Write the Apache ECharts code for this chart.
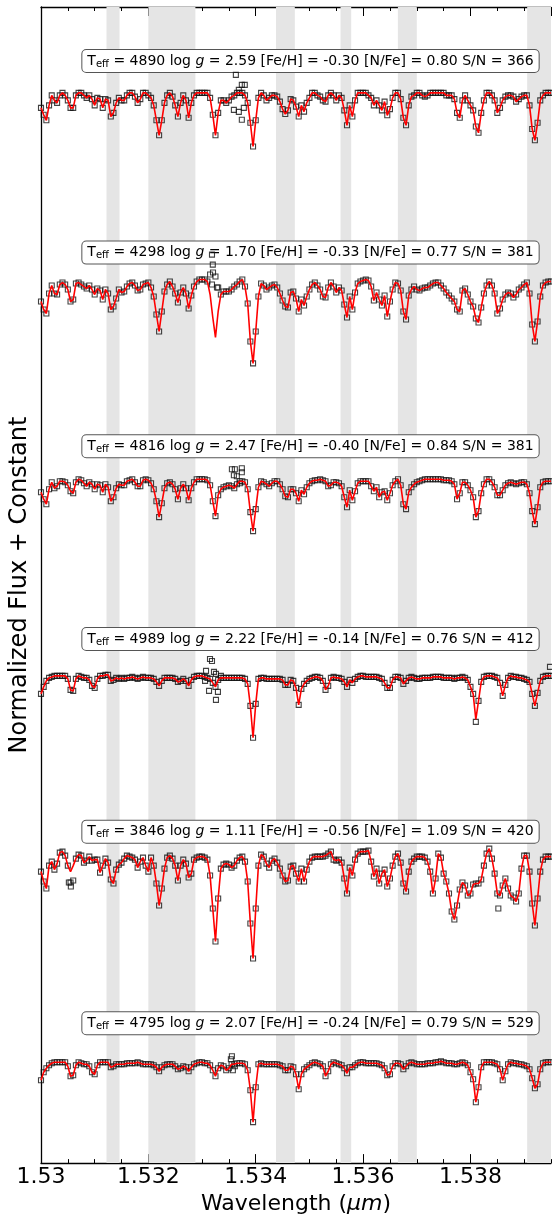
<!DOCTYPE html>
<html><head><meta charset="utf-8">
<script src="https://cdn.jsdelivr.net/npm/echarts@6/dist/echarts.min.js"></script>
<style>html,body{margin:0;padding:0;background:#fff}#c{width:552px;height:1220px}</style>
</head><body><div id="c"></div>
<script>
// ---- sampling grid (instrument pixels) ----
const WL_START = 1.53, WL_STEP = 0.00005, N_PIX = 191;
const X_MIN = 1.53, X_MAX = 1.5395;
const Y_MIN = 0.596, Y_MAX = 5.228;
const xTickInterval = 0.002, xMinorInterval = 0.0005;

// ---- masked (gray) wavelength windows ----
const bandStart = [1.53122, 1.532, 1.534377, 1.53558, 1.536648, 1.539056];
const bandEnd   = [1.531463, 1.532876, 1.534728, 1.535778, 1.537, 1.5395];

// ---- stellar parameters ----
const teff = [4890, 4298, 4816, 4989, 3846, 4795];
const logg = ['2.59', '1.70', '2.47', '2.22', '1.11', '2.07'];
const feh  = ['-0.30', '-0.33', '-0.40', '-0.14', '-0.56', '-0.24'];
const nfe  = ['0.80', '0.77', '0.84', '0.76', '1.09', '0.79'];
const snr  = [366, 381, 381, 412, 420, 529];
const offsets = [3.884, 3.128, 2.336, 1.548, 0.836, 0.0];
const labelX = 1.53502;
const labelY = [5.012, 4.244, 3.468, 2.696, 1.924, 1.156];

// ---- model spectra (normalized flux) ----
const model1 = [
0.94,0.912,0.89,0.95,0.99,0.97,0.96,0.99,1.0,0.99,
0.97,0.94,0.94,0.99,1.0,1.0,0.99,0.98,0.99,0.975,
0.95,0.98,0.975,0.94,0.975,0.97,0.905,0.92,0.96,0.98,
0.97,0.97,0.99,1.0,1.0,0.985,0.96,0.975,1.0,1.0,
0.99,0.98,0.95,0.89,0.83,0.89,0.96,0.99,1.0,0.985,
0.95,0.905,0.96,0.99,0.97,0.90,0.96,0.99,1.0,1.0,
1.0,1.0,1.0,0.98,0.912,0.83,0.92,0.97,0.97,0.96,
0.97,0.985,0.99,1.0,1.0,1.0,0.99,0.96,0.88,0.785,
0.89,0.98,1.0,0.99,0.97,0.98,0.99,0.99,0.985,0.965,
0.935,0.915,0.93,0.975,0.97,0.945,0.905,0.95,0.925,0.96,
0.98,1.0,1.0,0.99,0.985,0.97,0.965,0.99,1.0,0.99,
0.97,0.99,0.98,0.93,0.87,0.95,0.905,0.97,1.0,1.0,
1.0,1.0,0.99,0.98,0.95,0.97,0.95,0.93,0.965,0.91,
0.935,0.98,1.0,1.0,0.975,0.90,0.87,0.95,0.985,0.99,
1.0,1.0,0.99,0.985,0.99,1.0,1.0,1.0,1.0,1.0,
1.0,0.99,0.99,0.99,0.975,0.92,0.90,0.97,0.99,0.97,
0.95,0.93,0.865,0.84,0.92,0.97,1.0,1.0,0.99,0.97,
0.92,0.94,0.97,0.985,0.99,0.99,0.985,0.965,0.975,0.985,
0.99,0.99,0.95,0.855,0.81,0.88,0.97,0.99,1.0,1.0,
1.0];
const model2 = [
0.92,0.888,0.872,0.952,0.984,0.952,0.948,0.988,0.996,0.988,
0.968,0.92,0.928,0.992,0.996,0.988,0.98,0.972,0.984,0.968,
0.948,0.972,0.964,0.928,0.968,0.952,0.888,0.90,0.932,0.968,
0.956,0.96,0.98,0.992,0.996,0.984,0.964,0.968,0.988,0.992,
0.996,0.976,0.94,0.868,0.80,0.88,0.96,0.988,1.0,0.98,
0.952,0.916,0.956,0.976,0.952,0.892,0.944,0.98,1.0,1.008,
1.008,1.008,1.0,0.948,0.856,0.776,0.88,0.948,0.96,0.96,
0.96,0.968,0.98,0.988,1.0,1.008,0.98,0.912,0.76,0.672,
0.80,0.94,0.992,0.984,0.968,0.976,0.984,0.988,0.976,0.952,
0.924,0.90,0.896,0.956,0.96,0.932,0.88,0.928,0.904,0.94,
0.968,0.988,0.996,0.984,0.968,0.94,0.936,0.976,0.996,0.98,
0.956,0.976,0.964,0.908,0.856,0.94,0.888,0.956,0.992,1.0,
1.004,1.008,1.004,0.98,0.924,0.956,0.928,0.904,0.944,0.86,
0.92,0.968,0.996,0.992,0.964,0.88,0.848,0.944,0.968,0.98,
0.968,0.964,0.972,0.976,0.976,0.984,0.992,0.996,0.996,0.984,
0.972,0.956,0.944,0.932,0.92,0.888,0.88,0.964,0.972,0.948,
0.92,0.90,0.852,0.836,0.896,0.952,0.984,1.0,0.984,0.952,
0.872,0.892,0.928,0.948,0.956,0.952,0.936,0.948,0.968,0.976,
0.988,0.996,0.952,0.828,0.76,0.84,0.94,0.984,0.996,1.0,
1.0];
const model3 = [
0.948,0.92,0.90,0.96,0.988,0.964,0.972,0.992,0.992,0.988,
0.976,0.952,0.944,0.988,1.0,0.996,0.984,0.972,0.988,0.98,
0.96,0.98,0.976,0.948,0.98,0.968,0.912,0.928,0.964,0.98,
0.976,0.976,0.992,0.996,1.0,0.988,0.972,0.972,0.996,1.0,
0.996,0.984,0.96,0.912,0.848,0.904,0.964,0.984,0.988,0.98,
0.96,0.92,0.964,0.98,0.964,0.916,0.964,0.988,1.0,1.0,
1.0,1.0,0.996,0.976,0.912,0.852,0.936,0.96,0.968,0.972,
0.976,0.972,0.964,0.98,0.992,0.992,0.988,0.96,0.868,0.792,
0.88,0.968,0.992,0.988,0.98,0.972,0.984,0.992,0.992,0.98,
0.96,0.932,0.928,0.96,0.96,0.944,0.912,0.956,0.94,0.968,
0.984,0.992,0.996,0.996,1.0,0.996,0.992,0.972,0.976,0.988,
0.988,0.984,0.972,0.928,0.888,0.956,0.916,0.952,0.984,0.992,
0.992,0.992,0.992,0.972,0.952,0.968,0.928,0.948,0.952,0.916,
0.944,0.976,0.992,1.0,0.976,0.90,0.88,0.948,0.968,0.98,
0.988,0.992,0.996,1.0,1.0,1.0,1.0,1.0,1.0,1.0,
0.996,0.996,0.996,0.992,0.98,0.92,0.944,0.988,0.988,0.976,
0.956,0.928,0.848,0.872,0.944,0.98,1.0,1.0,0.988,0.968,
0.936,0.936,0.956,0.976,0.984,0.988,0.984,0.98,0.984,0.988,
0.988,0.98,0.944,0.872,0.82,0.888,0.968,0.988,0.992,0.992,
0.992];
const model4 = [
0.928,0.956,0.98,0.992,0.996,1.0,1.0,1.0,1.0,1.0,
0.988,0.944,0.94,0.988,1.0,0.996,0.992,0.992,0.984,0.96,
0.952,0.988,1.0,1.0,1.004,1.004,0.98,0.984,0.992,0.988,
0.992,0.988,0.992,0.992,0.996,0.992,0.988,0.992,0.996,0.992,
0.992,0.992,0.988,0.976,0.96,0.98,0.992,0.992,0.992,0.992,
0.988,0.976,0.98,0.988,0.98,0.96,0.984,0.996,1.0,1.0,
1.0,0.996,0.992,0.988,0.972,0.956,0.984,0.992,0.992,0.992,
0.992,0.992,0.992,0.992,0.992,0.992,0.988,0.968,0.88,0.752,
0.888,0.988,0.992,0.992,0.988,0.988,0.988,0.988,0.988,0.988,
0.984,0.964,0.964,0.984,0.98,0.952,0.884,0.948,0.968,0.98,
0.988,0.992,0.996,0.996,0.992,0.98,0.944,0.96,0.992,0.996,
0.992,0.992,0.988,0.976,0.956,0.984,0.972,0.988,0.996,1.0,
1.0,0.996,0.996,0.996,0.996,0.996,0.992,0.988,0.972,0.952,
0.952,0.984,0.996,0.996,0.992,0.968,0.98,0.992,0.996,0.992,
0.988,0.988,0.992,0.992,0.992,0.992,0.996,0.996,0.996,0.996,
0.992,0.992,0.992,0.992,0.988,0.992,0.992,0.996,0.992,0.984,
0.956,0.928,0.826,0.90,0.976,0.996,1.0,1.0,1.0,0.996,
0.992,0.972,0.92,0.964,0.992,1.0,0.996,0.996,0.992,0.992,
0.988,0.984,0.976,0.928,0.88,0.932,0.98,0.996,1.0,1.0,
1.0];
const model5 = [
0.928,0.888,0.86,0.952,0.968,0.936,0.96,1.004,1.008,0.992,
0.952,0.928,0.952,0.98,0.996,0.992,0.964,0.972,0.988,0.972,
0.976,0.976,0.924,0.952,0.98,0.964,0.896,0.88,0.936,0.956,
0.964,0.98,0.992,0.988,0.984,0.976,0.944,0.968,0.984,0.952,
0.928,0.984,0.952,0.88,0.792,0.86,0.94,0.984,0.992,0.98,
0.952,0.892,0.952,0.976,0.96,0.904,0.92,0.976,0.984,0.988,
0.988,0.984,0.976,0.912,0.78,0.648,0.82,0.94,0.956,0.96,
0.956,0.944,0.952,0.972,0.984,0.988,0.968,0.888,0.72,0.58,
0.78,0.952,0.996,0.988,0.96,0.944,0.972,0.98,0.964,0.94,
0.912,0.888,0.892,0.948,0.952,0.92,0.888,0.94,0.888,0.936,
0.968,0.984,0.988,0.988,0.988,0.988,0.992,1.0,1.008,0.976,
0.972,0.976,0.964,0.90,0.84,0.944,0.912,0.976,1.0,1.008,
1.008,1.008,1.012,0.968,0.908,0.94,0.88,0.92,0.936,0.868,
0.90,0.952,0.988,1.0,0.964,0.88,0.848,0.928,0.968,0.98,
0.988,0.988,0.988,0.984,0.968,0.928,0.84,0.90,1.0,0.984,
0.92,0.888,0.84,0.768,0.736,0.792,0.856,0.884,0.872,0.832,
0.84,0.876,0.88,0.88,0.896,0.952,1.0,1.02,0.98,0.92,
0.84,0.832,0.872,0.90,0.86,0.832,0.824,0.808,0.84,0.94,
0.992,0.992,0.928,0.80,0.712,0.82,0.928,0.976,0.988,0.988,
0.988];
const model6 = [
0.928,0.96,0.976,0.988,0.996,1.0,1.0,1.0,1.0,1.0,
0.984,0.944,0.948,0.988,1.0,0.996,0.992,0.992,0.984,0.96,
0.952,0.988,1.0,1.0,1.0,1.0,0.98,0.984,0.992,0.992,
0.992,0.992,0.996,0.996,0.996,0.996,1.0,0.996,0.992,0.992,
0.992,0.992,0.988,0.98,0.964,0.98,0.988,0.992,0.992,0.992,
0.984,0.972,0.976,0.984,0.98,0.964,0.98,0.992,0.996,1.0,
1.0,0.996,0.996,0.988,0.968,0.944,0.976,0.988,0.984,0.968,
0.976,0.992,0.992,0.996,0.996,0.996,0.992,0.968,0.888,0.76,
0.90,0.992,0.996,0.992,0.992,0.992,0.992,0.992,0.992,0.988,
0.984,0.968,0.968,0.984,0.98,0.952,0.892,0.952,0.972,0.98,
0.988,0.996,1.0,0.996,0.992,0.984,0.944,0.964,0.992,1.0,
0.996,0.992,0.988,0.976,0.956,0.98,0.98,0.988,0.996,1.0,
1.0,0.996,0.996,0.996,0.996,0.996,0.992,0.988,0.976,0.948,
0.952,0.984,0.996,0.996,0.992,0.972,0.984,0.996,1.0,0.996,
0.992,0.992,0.992,0.992,0.996,0.996,0.996,1.0,1.0,1.004,
1.0,0.996,0.996,0.996,0.992,0.992,0.996,1.0,0.996,0.988,
0.96,0.932,0.84,0.90,0.98,1.0,1.0,1.0,1.0,0.996,
0.992,0.972,0.928,0.964,0.992,1.0,0.996,0.996,0.992,0.992,
0.988,0.984,0.972,0.936,0.896,0.912,0.972,0.996,1.0,1.0,
1.0];

// ---- observed spectra (normalized flux) ----
const obs1 = [
0.94,0.912,0.89,0.95,0.99,0.97,0.96,0.99,1.0,0.99,
0.97,0.94,0.94,0.99,1.0,1.0,0.99,0.98,0.99,0.975,
0.95,0.98,0.975,0.94,0.975,0.97,0.905,0.92,0.96,0.98,
0.97,0.97,0.99,1.0,1.0,0.985,0.96,0.975,1.0,1.0,
0.99,0.98,0.95,0.89,0.83,0.89,0.96,0.99,1.0,0.985,
0.95,0.905,0.96,0.99,0.97,0.90,0.96,0.99,1.0,1.0,
1.0,1.0,1.0,0.98,0.912,0.83,0.92,0.97,0.97,0.96,
0.97,0.985,0.99,1.0,1.0,1.0,0.99,0.96,0.88,0.785,
0.89,0.98,1.0,0.99,0.97,0.98,0.99,0.99,0.985,0.965,
0.935,0.915,0.93,0.975,0.97,0.945,0.905,0.95,0.925,0.96,
0.98,1.0,1.0,0.99,0.985,0.97,0.965,0.99,1.0,0.99,
0.97,0.99,0.98,0.93,0.87,0.95,0.905,0.97,1.0,1.0,
1.0,1.0,0.99,0.98,0.95,0.97,0.95,0.93,0.965,0.91,
0.935,0.98,1.0,1.0,0.975,0.90,0.87,0.95,0.985,0.99,
1.0,1.0,0.99,0.985,0.99,1.0,1.0,1.0,1.0,1.0,
1.0,0.99,0.99,0.99,0.975,0.92,0.90,0.97,0.99,0.97,
0.95,0.93,0.865,0.84,0.92,0.97,1.0,1.0,0.99,0.97,
0.92,0.94,0.97,0.985,0.99,0.99,0.985,0.965,0.975,0.985,
0.99,0.99,0.95,0.855,0.81,0.88,0.97,0.99,1.0,1.0,
1.0];
const obs2 = [
0.92,0.888,0.872,0.952,0.984,0.952,0.948,0.988,0.996,0.988,
0.968,0.92,0.928,0.992,0.996,0.988,0.98,0.972,0.984,0.968,
0.948,0.972,0.964,0.928,0.968,0.952,0.888,0.90,0.932,0.968,
0.956,0.96,0.98,0.992,0.996,0.984,0.964,0.968,0.988,0.992,
0.996,0.976,0.94,0.868,0.80,0.88,0.96,0.988,1.0,0.98,
0.952,0.916,0.956,0.976,0.952,0.892,0.944,0.98,1.0,1.008,
1.008,1.008,1.0,1.028,1.068,1.02,0.976,0.948,0.96,0.96,
0.96,0.968,0.98,0.988,1.0,1.008,0.98,0.912,0.76,0.672,
0.80,0.94,0.992,0.984,0.968,0.976,0.984,0.988,0.976,0.952,
0.924,0.90,0.896,0.956,0.96,0.932,0.88,0.928,0.904,0.94,
0.968,0.988,0.996,0.984,0.968,0.94,0.936,0.976,0.996,0.98,
0.956,0.976,0.964,0.908,0.856,0.94,0.888,0.956,0.992,1.0,
1.004,1.008,1.004,0.98,0.924,0.956,0.928,0.904,0.944,0.86,
0.92,0.968,0.996,0.992,0.964,0.88,0.848,0.944,0.968,0.98,
0.968,0.964,0.972,0.976,0.976,0.984,0.992,0.996,0.996,0.984,
0.972,0.956,0.944,0.932,0.92,0.888,0.88,0.964,0.972,0.948,
0.92,0.90,0.852,0.836,0.896,0.952,0.984,1.0,0.984,0.952,
0.872,0.892,0.928,0.948,0.956,0.952,0.936,0.948,0.968,0.976,
0.988,0.996,0.952,0.828,0.76,0.84,0.94,0.984,0.996,1.0,
1.0];
const obs3 = [
0.948,0.92,0.90,0.96,0.988,0.964,0.972,0.992,0.992,0.988,
0.976,0.952,0.944,0.988,1.0,0.996,0.984,0.972,0.988,0.98,
0.96,0.98,0.976,0.948,0.98,0.968,0.912,0.928,0.964,0.98,
0.976,0.976,0.992,0.996,1.0,0.988,0.972,0.972,0.996,1.0,
0.996,0.984,0.96,0.912,0.848,0.904,0.964,0.984,0.988,0.98,
0.96,0.92,0.964,0.98,0.964,0.916,0.964,0.988,1.0,1.0,
1.0,1.0,0.996,0.976,0.912,0.852,0.936,0.96,0.968,0.972,
0.976,0.972,0.964,0.98,0.992,0.992,0.988,0.96,0.868,0.792,
0.88,0.968,0.992,0.988,0.98,0.972,0.984,0.992,0.992,0.98,
0.96,0.932,0.928,0.96,0.96,0.944,0.912,0.956,0.94,0.968,
0.984,0.992,0.996,0.996,1.0,0.996,0.992,0.972,0.976,0.988,
0.988,0.984,0.972,0.928,0.888,0.956,0.916,0.952,0.984,0.992,
0.992,0.992,0.992,0.972,0.952,0.968,0.928,0.948,0.952,0.916,
0.944,0.976,0.992,1.0,0.976,0.90,0.88,0.948,0.968,0.98,
0.988,0.992,0.996,1.0,1.0,1.0,1.0,1.0,1.0,1.0,
0.996,0.996,0.996,0.992,0.98,0.92,0.944,0.988,0.988,0.976,
0.956,0.928,0.848,0.872,0.944,0.98,1.0,1.0,0.988,0.968,
0.936,0.936,0.956,0.976,0.984,0.988,0.984,0.98,0.984,0.988,
0.988,0.98,0.944,0.872,0.82,0.888,0.968,0.988,0.992,0.992,
0.992];
const obs4 = [
0.928,0.956,0.98,0.992,0.996,1.0,1.0,1.0,1.0,1.0,
0.988,0.944,0.94,0.988,1.0,0.996,0.992,0.992,0.984,0.96,
0.952,0.988,1.0,1.0,1.004,1.004,0.98,0.984,0.992,0.988,
0.992,0.988,0.992,0.992,0.996,0.992,0.988,0.992,0.996,0.992,
0.992,0.992,0.988,0.976,0.96,0.98,0.992,0.992,0.992,0.992,
0.988,0.976,0.98,0.988,0.98,0.96,0.984,0.996,1.0,1.0,
1.0,0.996,0.992,0.988,0.972,0.956,0.984,0.992,0.992,0.992,
0.992,0.992,0.992,0.992,0.992,0.992,0.988,0.968,0.88,0.752,
0.888,0.988,0.992,0.992,0.988,0.988,0.988,0.988,0.988,0.988,
0.984,0.964,0.964,0.984,0.98,0.952,0.884,0.948,0.968,0.98,
0.988,0.992,0.996,0.996,0.992,0.98,0.944,0.96,0.992,0.996,
0.992,0.992,0.988,0.976,0.956,0.984,0.972,0.988,0.996,1.0,
1.0,0.996,0.996,0.996,0.996,0.996,0.992,0.988,0.972,0.952,
0.952,0.984,0.996,0.996,0.992,0.968,0.98,0.992,0.996,0.992,
0.988,0.988,0.992,0.992,0.992,0.992,0.996,0.996,0.996,0.996,
0.992,0.992,0.992,0.992,0.988,0.992,0.992,0.996,0.992,0.984,
0.956,0.928,0.816,0.90,0.976,0.996,1.0,1.0,1.0,0.996,
0.992,0.972,0.92,0.964,0.992,1.0,0.996,0.996,0.992,0.992,
0.988,0.984,0.976,0.928,0.88,0.932,0.98,0.996,1.0,1.0,
1.0];
const obs5 = [
0.928,0.888,0.86,0.952,0.968,0.936,0.96,1.004,1.008,0.992,
0.952,0.884,0.892,0.98,0.996,0.992,0.964,0.972,0.988,0.972,
0.976,0.976,0.924,0.952,0.98,0.964,0.896,0.88,0.936,0.956,
0.964,0.98,0.992,0.988,0.984,0.976,0.944,0.968,0.984,0.952,
0.928,0.984,0.952,0.88,0.792,0.86,0.94,0.984,0.992,0.98,
0.952,0.892,0.952,0.976,0.96,0.904,0.92,0.976,0.984,0.988,
0.988,0.984,0.976,0.912,0.78,0.648,0.82,0.94,0.956,0.96,
0.956,0.944,0.952,0.972,0.984,0.988,0.968,0.888,0.72,0.58,
0.78,0.952,0.996,0.988,0.96,0.944,0.972,0.98,0.964,0.94,
0.912,0.888,0.892,0.948,0.952,0.92,0.888,0.94,0.888,0.936,
0.968,0.984,0.988,0.988,0.988,0.988,0.992,1.0,1.008,0.976,
0.972,0.976,0.964,0.90,0.84,0.944,0.912,0.976,1.0,1.008,
1.008,1.008,1.012,0.968,0.908,0.94,0.88,0.92,0.936,0.868,
0.90,0.952,0.988,1.0,0.964,0.88,0.848,0.928,0.968,0.98,
0.988,0.988,0.988,0.984,0.968,0.928,0.84,0.90,1.0,0.984,
0.92,0.888,0.84,0.768,0.736,0.792,0.856,0.884,0.872,0.832,
0.84,0.876,0.88,0.88,0.896,0.952,1.0,1.02,0.98,0.92,
0.84,0.832,0.872,0.90,0.86,0.832,0.824,0.808,0.84,0.94,
0.992,0.992,0.928,0.80,0.712,0.82,0.928,0.976,0.988,0.988,
0.988];
const obs6 = [
0.928,0.96,0.976,0.988,0.996,1.0,1.0,1.0,1.0,1.0,
0.984,0.944,0.948,0.988,1.0,0.996,0.992,0.992,0.984,0.96,
0.952,0.988,1.0,1.0,1.0,1.0,0.98,0.984,0.992,0.992,
0.992,0.992,0.996,0.996,0.996,0.996,1.0,0.996,0.992,0.992,
0.992,0.992,0.988,0.98,0.964,0.98,0.988,0.992,0.992,0.992,
0.984,0.972,0.976,0.984,0.98,0.964,0.98,0.992,0.996,1.0,
1.0,0.996,0.996,0.988,0.968,0.944,0.976,0.988,0.984,0.968,
0.976,0.992,0.992,0.996,0.996,0.996,0.992,0.968,0.888,0.76,
0.90,0.992,0.996,0.992,0.992,0.992,0.992,0.992,0.992,0.988,
0.984,0.968,0.968,0.984,0.98,0.952,0.892,0.952,0.972,0.98,
0.988,0.996,1.0,0.996,0.992,0.984,0.944,0.964,0.992,1.0,
0.996,0.992,0.988,0.976,0.956,0.98,0.98,0.988,0.996,1.0,
1.0,0.996,0.996,0.996,0.996,0.996,0.992,0.988,0.976,0.948,
0.952,0.984,0.996,0.996,0.992,0.972,0.984,0.996,1.0,0.996,
0.992,0.992,0.992,0.992,0.996,0.996,0.996,1.0,1.0,1.004,
1.0,0.996,0.996,0.996,0.992,0.992,0.996,1.0,0.996,0.988,
0.96,0.932,0.84,0.90,0.98,1.0,1.0,1.0,1.0,0.996,
0.992,0.972,0.928,0.964,0.992,1.0,0.996,0.996,0.992,0.992,
0.988,0.984,0.972,0.936,0.896,0.912,0.972,0.996,1.0,1.0,
1.0];

// ---- off-grid observed pixels (spikes / residual sky) [wavelength, flux] ----
const out1 = [[1.53363,1.072],[1.533741,1.032],[1.533796,1.032],[1.533685,1.012],[1.533593,0.932],[1.533685,0.924],[1.533778,0.94],[1.533741,0.892]];
const out2 = [[1.533185,1.108],[1.533185,0.988],[1.533204,1.036],[1.533278,0.976]];
const out3 = [[1.533556,1.04],[1.533611,1.04],[1.533741,1.044],[1.533593,1.016],[1.533648,1.012],[1.533741,1.028],[1.533704,0.984]];
const out4 = [[1.533148,1.068],[1.533185,1.06],[1.533074,1.02],[1.533056,0.98],[1.533222,1.016],[1.533259,1.008],[1.533352,1.0],[1.53313,0.94],[1.533296,0.936],[1.533259,0.904],[1.539481,1.036]];
const out5 = [[1.530519,0.884],[1.530556,0.868],[1.538519,0.78]];
const out6 = [[1.533537,1.012],[1.533556,1.024],[1.533574,0.968],[1.533611,0.984]];

const models = [model1, model2, model3, model4, model5, model6];
const observed = [obs1, obs2, obs3, obs4, obs5, obs6];
const outliers = [out1, out2, out3, out4, out5, out6];

const wavelength = [];
for (let i = 0; i < N_PIX; i++) wavelength.push(+(WL_START + i * WL_STEP).toFixed(6));

const FONT = 'DejaVu Sans';
const chart = echarts.init(document.getElementById('c'), null, {renderer: 'canvas'});

const series = [{
  type: 'line', data: [], z: 0, silent: true,
  markArea: {
    silent: true,
    itemStyle: {color: '#e5e5e5'},
    data: bandStart.map((s, i) => [{xAxis: s}, {xAxis: bandEnd[i]}])
  }
}];
for (let k = 0; k < 6; k++) {
  const off = offsets[k];
  const pts = wavelength.map((w, i) => [w, observed[k][i] + off])
    .concat(outliers[k].map(p => [p[0], p[1] + off]));
  series.push({
    type: 'scatter', data: pts, z: 3, silent: true,
    symbol: 'rect', symbolSize: 5,
    itemStyle: {color: 'rgba(0,0,0,0)', borderColor: '#111', borderWidth: 1.1}
  });
  series.push({
    type: 'line', data: wavelength.map((w, i) => [w, models[k][i] + off]),
    z: 4, silent: true, symbol: 'none',
    lineStyle: {color: '#ff0000', width: 1.6}
  });
}

function xAx(pos, interval, len, labels, line) {
  return {
    type: 'value', position: pos, min: X_MIN, max: X_MAX, interval: interval,
    axisLine: {show: line, onZero: false, lineStyle: {color: '#000', width: 1.3}},
    axisTick: {show: true, inside: true, length: len, lineStyle: {color: '#000', width: 1}},
    axisLabel: labels ? {
      show: true, fontSize: 22, fontFamily: FONT, color: '#000', margin: 3,
      showMaxLabel: false,
      formatter: v => String(+v.toFixed(4))
    } : {show: false},
    splitLine: {show: false}
  };
}
const xAxes = [
  xAx('bottom', xTickInterval, 9, true, true),
  xAx('bottom', xMinorInterval, 4, false, false),
  xAx('top', xTickInterval, 9, false, true),
  xAx('top', xMinorInterval, 4, false, false)
];
xAxes[0].name = 'Wavelength ({i|μm})';
xAxes[0].nameLocation = 'middle';
xAxes[0].nameGap = 29;
xAxes[0].nameTextStyle = {fontSize: 22, fontFamily: FONT, color: '#000',
  rich: {i: {fontSize: 22, fontFamily: FONT, fontStyle: 'italic', color: '#000'}}};

const option = {
  animation: false,
  backgroundColor: '#fff',
  grid: {left: 38, right: 1, top: 7, bottom: 55, containLabel: false},
  xAxis: xAxes,
  yAxis: {
    type: 'value', min: Y_MIN, max: Y_MAX,
    axisLine: {show: true, lineStyle: {color: '#000', width: 1.3}},
    axisTick: {show: false}, axisLabel: {show: false}, splitLine: {show: false},
    name: 'Normalized Flux + Constant', nameLocation: 'middle', nameGap: 9,
    nameTextStyle: {fontSize: 24, fontFamily: FONT, color: '#000'}
  },
  series: series
};
chart.setOption(option);

const graphics = [];
for (let k = 0; k < 6; k++) {
  const p = chart.convertToPixel({xAxisIndex: 0, yAxisIndex: 0}, [labelX, labelY[k]]);
  graphics.push({
    type: 'text', x: p[0], y: p[1], z: 1, silent: true,
    style: {
      text: '{t|T}{s|eff}{t| = ' + teff[k] + ' log }{i|g}{t| = ' + logg[k] + ' [Fe/H] = ' + feh[k] +
            ' [N/Fe] = ' + nfe[k] + ' S/N = ' + snr[k] + '}',
      align: 'center', verticalAlign: 'middle',
      backgroundColor: '#fff', borderColor: '#555', borderWidth: 1, borderRadius: 4,
      padding: [3, 5, 3, 5],
      rich: {
        t: {fontSize: 14, fontFamily: FONT, color: '#000', lineHeight: 16},
        s: {fontSize: 10, fontFamily: FONT, color: '#000', lineHeight: 10, verticalAlign: 'bottom'},
        i: {fontSize: 14, fontFamily: FONT, color: '#000', fontStyle: 'italic', lineHeight: 16}
      }
    }
  });
}
chart.setOption({graphic: graphics});
</script>
</body></html>
